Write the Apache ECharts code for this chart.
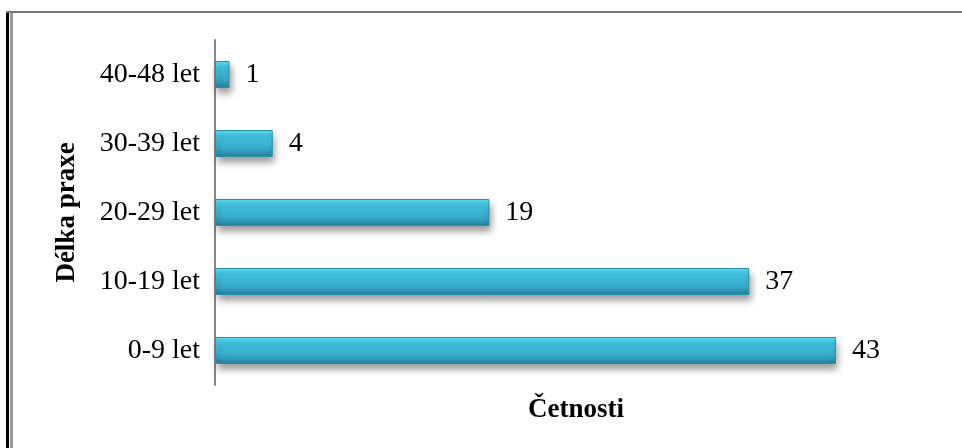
<!DOCTYPE html>
<html lang="cs">

<head>
    <meta charset="UTF-8">
    <title>Délka praxe</title>
    <script src="https://cdn.jsdelivr.net/npm/echarts@6/dist/echarts.min.js"></script>
    <style>
        html, body { margin: 0; padding: 0; background: #fff; }
        #chart { width: 962px; height: 448px; }
    </style>
</head>

<body>
    <div id="chart"></div>

    <script>
        // kategorie a četnosti (odspodu nahoru)
        var categories = ['0-9 let', '10-19 let', '20-29 let', '30-39 let', '40-48 let'];
        var counts = [43, 37, 19, 4, 1];

        var chart = echarts.init(document.getElementById('chart'));

        var barColor = new echarts.graphic.LinearGradient(0, 0, 0, 1, [
            { offset: 0, color: '#5fe0f6' },
            { offset: 0.2, color: '#44c6e4' },
            { offset: 0.7, color: '#35a9c8' },
            { offset: 1, color: '#267d98' }
        ]);

        var option = {
            animation: false,
            backgroundColor: '#fff',
            grid: { left: 215, right: 25, top: 40, bottom: 63, containLabel: false },
            xAxis: {
                type: 'value',
                min: 0,
                max: 50,
                name: 'Četnosti',
                nameLocation: 'middle',
                nameGap: 12,
                nameTextStyle: { fontFamily: 'Liberation Serif', fontSize: 27, fontWeight: 'bold', color: '#000', verticalAlign: 'top' },
                axisLine: { show: false },
                axisTick: { show: false },
                axisLabel: { show: false },
                splitLine: { show: false }
            },
            yAxis: {
                type: 'category',
                data: categories,
                name: 'Délka praxe',
                nameLocation: 'middle',
                nameRotate: 90,
                nameGap: 134,
                nameTextStyle: { fontFamily: 'Liberation Serif', fontSize: 27, fontWeight: 'bold', color: '#000' },
                axisLine: { show: true, lineStyle: { color: '#888', width: 2 } },
                axisTick: { show: false },
                axisLabel: { fontFamily: 'Liberation Serif', fontSize: 28, color: '#000', margin: 15 }
            },
            series: [{
                type: 'bar',
                data: counts,
                barWidth: 27,
                itemStyle: {
                    color: barColor,
                    borderColor: '#2a8fab',
                    borderWidth: 1,
                    shadowColor: 'rgba(0,0,0,0.4)',
                    shadowBlur: 7,
                    shadowOffsetY: 5,
                    shadowOffsetX: 2
                },
                label: {
                    show: true,
                    position: 'right',
                    distance: 16,
                    fontFamily: 'Liberation Serif',
                    fontSize: 28,
                    color: '#000'
                }
            }],
            graphic: [
                // rámeček vlevo a nahoře
                { type: 'rect', shape: { x: 6, y: 11, width: 3, height: 437 }, style: { fill: '#000' } },
                { type: 'rect', shape: { x: 10, y: 11, width: 3, height: 437 }, style: { fill: '#999' } },
                { type: 'rect', shape: { x: 6, y: 11, width: 956, height: 2 }, style: { fill: '#777' } }
            ]
        };

        chart.setOption(option);
    </script>
</body>

</html>
